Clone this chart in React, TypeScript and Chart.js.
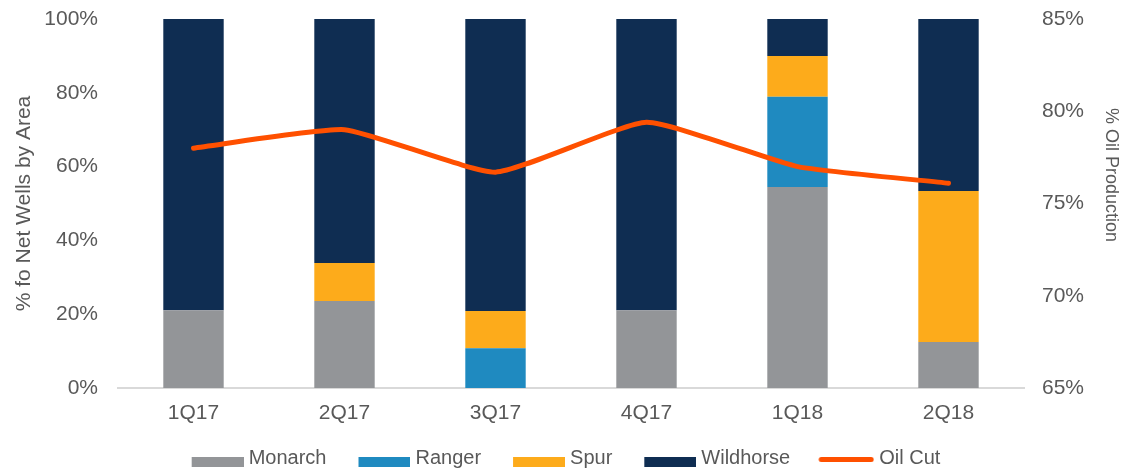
import React, { useEffect, useRef } from 'react';
import { Chart, registerables } from 'chart.js';

Chart.register(...registerables);

const categories = ['1Q17', '2Q17', '3Q17', '4Q17', '1Q18', '2Q18'];
const monarch = [21.1, 23.6, 0, 21.1, 54.5, 12.5];
const ranger = [0, 0, 10.8, 0, 24.4, 0];
const spur = [0, 10.3, 10.1, 0, 11.1, 40.9];
const wildhorse = [78.9, 66.1, 79.1, 78.9, 10.0, 46.6];
const oilCut = [78.0, 79.0, 76.7, 79.4, 77.0, 76.1];
const leftTicks = [0, 20, 40, 60, 80, 100];
const rightTicks = [65, 70, 75, 80, 85];

const COLORS = {
  monarch: '#939598',
  ranger: '#1F8AC0',
  spur: '#FDAB1B',
  wildhorse: '#0F2D52',
  oil: '#FF5000',
};
const TEXT = '#595959';
const FONT = "'Liberation Sans', Arial, sans-serif";

function boxImage(color: string) {
  const c = document.createElement('canvas');
  c.width = 69;
  c.height = 20;
  const ctx = c.getContext('2d')!;
  ctx.fillStyle = color;
  ctx.fillRect(17, 9, 52, 10);
  return c;
}

function lineImage(color: string) {
  const c = document.createElement('canvas');
  c.width = 69;
  c.height = 20;
  const ctx = c.getContext('2d')!;
  ctx.strokeStyle = color;
  ctx.lineWidth = 5;
  ctx.lineCap = 'round';
  ctx.beginPath();
  ctx.moveTo(16, 11.5);
  ctx.lineTo(66, 11.5);
  ctx.stroke();
  return c;
}

const rightTitlePlugin = {
  id: 'rightTitle',
  afterDraw(chart: any) {
    const ctx = chart.ctx;
    ctx.save();
    ctx.translate(1111, 175);
    ctx.rotate(Math.PI / 2);
    ctx.font = `18px ${FONT}`;
    ctx.fillStyle = TEXT;
    ctx.textAlign = 'center';
    ctx.textBaseline = 'middle';
    ctx.fillText('% Oil Production', 0, 0);
    ctx.restore();
  },
};

export default function App() {
  const ref = useRef<HTMLCanvasElement>(null);

  useEffect(() => {
    document.body.style.margin = '0';
    const legendOrder = [1, 2, 3, 4, 0];
    const images = [
      lineImage(COLORS.oil),
      boxImage(COLORS.monarch),
      boxImage(COLORS.ranger),
      boxImage(COLORS.spur),
      boxImage(COLORS.wildhorse),
    ];
    const chart = new Chart(ref.current!, {
      type: 'bar',
      data: {
        labels: categories,
        datasets: [
          {
            type: 'line',
            label: 'Oil Cut',
            data: oilCut,
            yAxisID: 'y1',
            borderColor: COLORS.oil,
            backgroundColor: COLORS.oil,
            borderWidth: 5,
            pointRadius: 0,
            tension: 0.15,
            borderCapStyle: 'round',
            borderJoinStyle: 'round',
          } as any,
          { label: 'Monarch', data: monarch, backgroundColor: COLORS.monarch, yAxisID: 'y' },
          { label: 'Ranger', data: ranger, backgroundColor: COLORS.ranger, yAxisID: 'y' },
          { label: 'Spur', data: spur, backgroundColor: COLORS.spur, yAxisID: 'y' },
          { label: 'Wildhorse', data: wildhorse, backgroundColor: COLORS.wildhorse, yAxisID: 'y' },
        ],
      },
      options: {
        responsive: false,
        animation: false,
        layout: { padding: { top: 19, left: 0, right: 16, bottom: 0 } },
        datasets: {
          bar: { barPercentage: 0.4, categoryPercentage: 1 },
        },
        plugins: {
          tooltip: { enabled: false },
          legend: {
            position: 'bottom',
            labels: {
              usePointStyle: true,
              pointStyleWidth: 59,
              boxHeight: 20,
              padding: 20,
              color: TEXT,
              font: { family: FONT, size: 20 },
              generateLabels: (ch: any) =>
                legendOrder.map((i) => ({
                  text: ch.data.datasets[i].label,
                  fillStyle: 'transparent',
                  strokeStyle: 'transparent',
                  lineWidth: 0,
                  pointStyle: images[i],
                  hidden: false,
                  datasetIndex: i,
                  fontColor: TEXT,
                })),
            },
          },
        },
        scales: {
          x: {
            stacked: true,
            grid: { display: false, drawTicks: false },
            border: { display: true, color: '#D9D9D9', width: 2 },
            ticks: { color: TEXT, font: { family: FONT, size: 21 }, padding: 13 },
            afterFit: (s: any) => {
              s.height = 40;
            },
          },
          y: {
            stacked: true,
            position: 'left',
            min: 0,
            max: 100,
            grid: { display: false, drawTicks: false },
            border: { display: false },
            afterBuildTicks: (s: any) => {
              s.ticks = leftTicks.map((v) => ({ value: v }));
            },
            ticks: {
              color: TEXT,
              font: { family: FONT, size: 21 },
              padding: 20,
              callback: (v: any) => `${v}%`,
            },
            title: {
              display: true,
              text: '% fo Net Wells by Area',
              color: TEXT,
              font: { family: FONT, size: 21 },
              padding: { top: 12, bottom: 0 },
            },
            afterFit: (s: any) => {
              s.width = 118;
              s.paddingTop = 0;
              s.paddingBottom = 0;
            },
          },
          y1: {
            position: 'right',
            min: 65,
            max: 85,
            grid: { display: false, drawTicks: false },
            border: { display: false },
            afterBuildTicks: (s: any) => {
              s.ticks = rightTicks.map((v) => ({ value: v }));
            },
            ticks: {
              color: TEXT,
              font: { family: FONT, size: 21 },
              padding: 18,
              callback: (v: any) => `${v}%`,
            },
            afterFit: (s: any) => {
              s.width = 96;
              s.paddingTop = 0;
              s.paddingBottom = 0;
            },
          },
        },
      },
      plugins: [rightTitlePlugin],
    });
    return () => chart.destroy();
  }, []);

  return (
    <div style={{ width: 1136, height: 478 }}>
      <canvas ref={ref} width={1136} height={478} />
    </div>
  );
}
